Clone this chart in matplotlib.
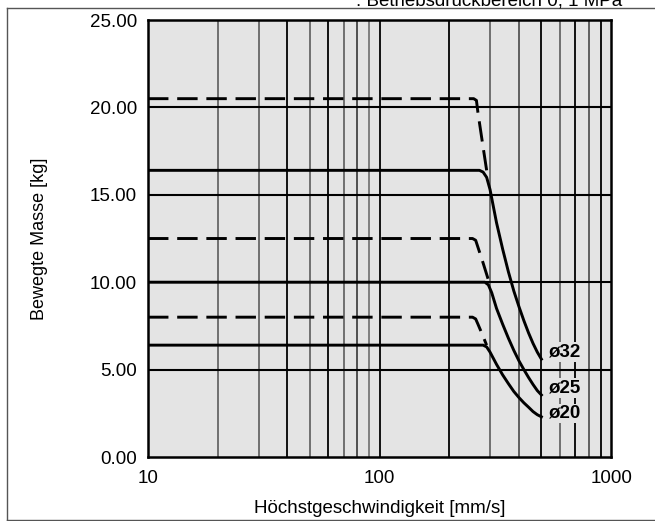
import matplotlib
matplotlib.use("Agg")
import matplotlib.pyplot as plt
from matplotlib.lines import Line2D

plt.rcParams["font.family"] = ["Liberation Sans", "DejaVu Sans"]

# Solid curves
v32 = [10, 270, 280, 290, 300, 320, 340, 360, 380, 400, 420, 440, 460, 480, 500]
m32 = [16.4, 16.4, 16.3, 16.0, 15.3, 13.4, 11.9, 10.6, 9.5, 8.6, 7.8, 7.1, 6.5, 6.0, 5.6]
v25 = [10, 285, 295, 305, 320, 340, 360, 380, 400, 420, 440, 460, 480, 500]
m25 = [10.0, 10.0, 9.85, 9.4, 8.5, 7.6, 6.8, 6.1, 5.5, 5.0, 4.55, 4.15, 3.8, 3.55]
v20 = [10, 280, 290, 300, 320, 340, 360, 380, 400, 420, 440, 460, 480, 500]
m20 = [6.4, 6.4, 6.3, 6.0, 5.3, 4.7, 4.2, 3.75, 3.4, 3.1, 2.85, 2.6, 2.42, 2.3]

# Dashed curves
v32d = [10, 255, 262, 266, 278, 290]
m32d = [20.5, 20.5, 20.4, 19.7, 18.0, 16.4]
v25d = [10, 252, 260, 266, 280, 294]
m25d = [12.5, 12.5, 12.4, 12.0, 11.1, 10.2]
v20d = [10, 252, 260, 266, 278, 290]
m20d = [8.0, 8.0, 7.9, 7.6, 7.0, 6.4]

labels = ["ø32", "ø25", "ø20"]
label_y = [6.0, 3.95, 2.5]

fig = plt.figure(figsize=(6.55, 5.21), dpi=100)
ax = fig.add_axes([0.226, 0.1228, 0.707, 0.8388])
ax.set_facecolor("#e4e4e4")
ax.set_xscale("log")
ax.set_xlim(10, 1000)
ax.set_ylim(0, 25)

# grid
minor = [20, 30, 40, 50, 60, 70, 80, 90, 200, 300, 400, 500, 600, 700, 800, 900]
grid_cols = ["#666666", "#666666", "#000000", "#666666", "#000000", "#666666", "#444444", "#777777",
             "#000000", "#666666", "#555555", "#000000", "#666666", "#000000", "#555555", "#000000"]
for xv, c in zip(minor, grid_cols):
    ax.axvline(xv, color=c, lw=1.3, zorder=1)
ax.axvline(100, color="#000000", lw=1.3, zorder=1)
for yv in [5, 10, 15, 20]:
    ax.axhline(yv, color="black", lw=1.5, zorder=1)

dash = (0, (7, 3))
for v, m in [(v32, m32), (v25, m25), (v20, m20)]:
    ax.plot(v, m, color="black", lw=2.1, solid_joinstyle="round", zorder=3)
for v, m in [(v32d, m32d), (v25d, m25d), (v20d, m20d)]:
    ax.plot(v, m, color="black", lw=2.1, linestyle=dash, zorder=3)

for lab, yv in zip(labels, label_y):
    ax.text(540, yv, lab, fontsize=13.5, fontweight="bold", va="center", ha="left", zorder=4,
            bbox=dict(facecolor="#e4e4e4", edgecolor="none", pad=1.0))

ax.set_yticks([0, 5, 10, 15, 20, 25])
ax.set_yticklabels(["0.00", "5.00", "10.00", "15.00", "20.00", "25.00"])
ax.set_xticks([10, 100, 1000])
ax.set_xticklabels(["10", "100", "1000"])
ax.minorticks_off()
ax.tick_params(axis="both", labelsize=13.5, length=0, pad=8)
ax.tick_params(axis="x", pad=9)
for sp in ax.spines.values():
    sp.set_linewidth(1.8)

ax.set_xlabel("Höchstgeschwindigkeit [mm/s]", fontsize=13.5, labelpad=10)
ax.set_ylabel("Bewegte Masse [kg]", fontsize=13, labelpad=30)

# outer frame
fig.add_artist(Line2D([7 / 655, 7 / 655], [0.002, 1 - 8 / 521], color="#555555", lw=1.0))
fig.add_artist(Line2D([7 / 655, 1.0], [1 - 8 / 521, 1 - 8 / 521], color="#555555", lw=1.0))
fig.add_artist(Line2D([7 / 655, 1.0], [0.002, 0.002], color="#555555", lw=1.0))
fig.text(0.95, 1 - 5 / 521, ": Betriebsdruckbereich 0, 1 MPa", fontsize=13.5, ha="right", va="baseline")

fig.savefig("out.png", dpi=100)
